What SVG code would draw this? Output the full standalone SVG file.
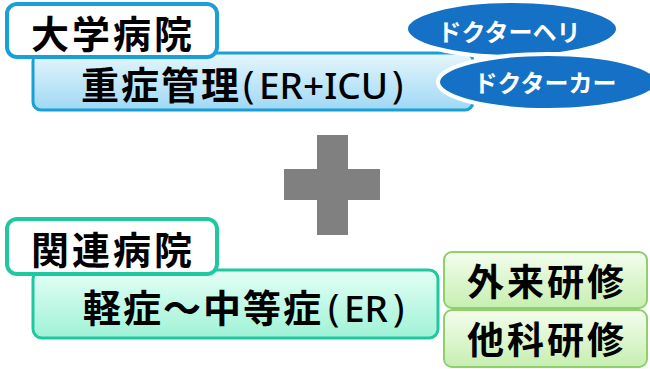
<svg xmlns="http://www.w3.org/2000/svg" width="650" height="369" viewBox="0 0 650 369">
<defs>
<linearGradient id="gBlue" x1="0" y1="0" x2="0" y2="1"><stop offset="0" stop-color="#e6f6fd"/><stop offset="1" stop-color="#9fd9f5"/></linearGradient>
<linearGradient id="gTeal" x1="0" y1="0" x2="0" y2="1"><stop offset="0" stop-color="#e4fff6"/><stop offset="1" stop-color="#9ff2d6"/></linearGradient>
<linearGradient id="gGreen" x1="0" y1="0" x2="0" y2="1"><stop offset="0" stop-color="#f4fdee"/><stop offset="1" stop-color="#c6efb0"/></linearGradient>
</defs>
<style>
.t{font-family:"Noto Sans CJK JP","Noto Sans",sans-serif;font-weight:700;fill:#000}
.l{font-family:"Noto Sans","Noto Sans CJK JP",sans-serif;font-weight:500;font-size:37px;letter-spacing:0}
.p{font-family:"Noto Sans","Noto Sans CJK JP",sans-serif;font-weight:400;font-size:38px;letter-spacing:0}
.w{font-family:"Noto Sans CJK JP","Noto Sans",sans-serif;font-weight:700;fill:#fff;font-size:24px}
.ell{fill:#1471c6;stroke:#fff;stroke-width:4}
</style>
<g id="univ-main">
<rect x="33" y="53" width="440" height="57" rx="8" fill="url(#gBlue)" stroke="#1aa0d8" stroke-width="3"/>
<text class="t" x="81" y="99" font-size="38" letter-spacing="2">重症管理<tspan class="p" x="243" y="98">(</tspan><tspan class="l" x="259" y="99">ER+ICU</tspan><tspan class="p" x="392" y="98">)</tspan></text>
</g>
<g id="univ-title">
<rect x="7" y="4" width="210" height="53" rx="10" fill="#fff" stroke="#1aa0d8" stroke-width="4"/>
<text class="t" x="31" y="48" font-size="38" letter-spacing="3">大学病院</text>
</g>
<g id="heli">
<ellipse class="ell" cx="512" cy="29" rx="106" ry="28"/>
<text class="w" x="509" y="41" text-anchor="middle">ドクターヘリ</text>
</g>
<g id="car">
<ellipse class="ell" cx="548" cy="82" rx="110" ry="28"/>
<text class="w" x="545" y="92" text-anchor="middle">ドクターカー</text>
</g>
<g id="plus">
<rect x="317" y="135" width="31" height="100" fill="#808080"/>
<rect x="284" y="169" width="96" height="31" fill="#808080"/>
</g>
<g id="rel-main">
<rect x="33" y="270" width="405" height="68" rx="9" fill="url(#gTeal)" stroke="#20c8a0" stroke-width="3"/>
<text class="t" x="83" y="322" font-size="38" letter-spacing="2">軽症～中等症<tspan class="p" x="328" y="321">(</tspan><tspan class="l" x="344" y="322">ER</tspan><tspan class="p" x="393" y="321">)</tspan></text>
</g>
<g id="rel-title">
<rect x="7" y="219" width="210" height="55" rx="10" fill="#fff" stroke="#20c8a0" stroke-width="4"/>
<text class="t" x="31" y="264" font-size="38" letter-spacing="3">関連病院</text>
</g>
<g id="gairai">
<rect x="444" y="252" width="203" height="56" rx="8" fill="url(#gGreen)" stroke="#8fd06c" stroke-width="2"/>
<text class="t" x="547" y="296" font-size="37" text-anchor="middle" letter-spacing="3">外来研修</text>
</g>
<g id="taka">
<rect x="444" y="310" width="203" height="57" rx="8" fill="url(#gGreen)" stroke="#8fd06c" stroke-width="2"/>
<text class="t" x="547" y="354" font-size="37" text-anchor="middle" letter-spacing="3">他科研修</text>
</g>
<g id="connectors"/>
</svg>
